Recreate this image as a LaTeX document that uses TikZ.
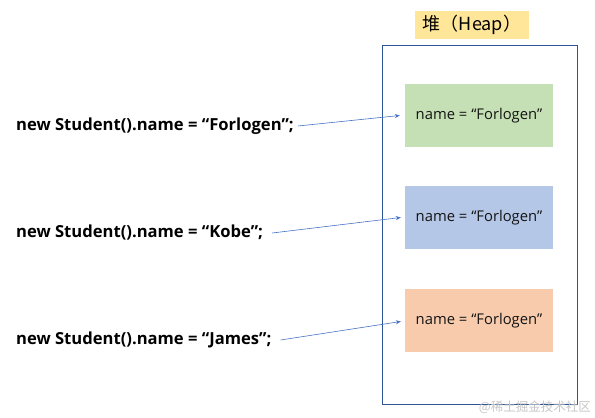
\documentclass[tikz,border=0pt]{standalone}
\usepackage{fontspec}
\setmainfont{Open Sans}
\newfontfamily\cjk{Noto Sans CJK SC}
\newfontfamily\latin{Open Sans}
\usepackage{tikz}
\usetikzlibrary{positioning,calc,arrows.meta}
\definecolor{heapline}{RGB}{47,85,151}
\definecolor{heapyellow}{RGB}{255,230,153}
\definecolor{objgreen}{RGB}{197,224,180}
\definecolor{objblue}{RGB}{180,199,231}
\definecolor{objorange}{RGB}{248,203,173}
\definecolor{arrowblue}{RGB}{68,114,196}
\definecolor{textdark}{RGB}{20,20,20}

\begin{document}
\begin{tikzpicture}[
		x=1pt,
		y=-1pt,
		font=\latin,
		heap/.style={
			draw=heapline,
			line width=0.8pt
		},
		heaplabel/.style={
			fill=heapyellow,
			minimum width=114pt,
			minimum height=28pt,
			inner sep=0pt,
			font=\cjk\fontsize{18}{20}\selectfont
		},
		obj/.style={
			minimum width=148pt,
			minimum height=63pt,
			inner sep=0pt,
			text=textdark,
			font=\latin\fontsize{14.8}{16}\selectfont
		},
		code/.style={
			anchor=west,
			inner sep=0pt,
			text=black,
			font=\latin\bfseries\fontsize{16.6}{18}\selectfont
		},
		arrow/.style={-{Stealth[length=5pt,width=4pt]}, line width=0.6pt, draw=arrowblue}
	]
	
	% Canvas
	\useasboundingbox (0,0) rectangle (595,418);
	
	% Heap
	\draw[heap] (382,45) rectangle (577,404);
	\node[heaplabel] (heaptitle) at (472,25) {堆（Heap）};
	
	% Objects in the heap
	\node[obj, fill=objgreen] (obj1) at (479,115.5) {name = “Forlogen”};
	\node[obj, fill=objblue] (obj2) at (479,217.5) {name = “Forlogen”};
	\node[obj, fill=objorange] (obj3) at (479,320.5) {name = “Forlogen”};
	
	% Statements
	\node[code] (new1) at (16,126) {new Student().name = “Forlogen”;};
	\node[code] (new2) at (16,233) {new Student().name = “Kobe”;};
	\node[code] (new3) at (16,340) {new Student().name = “James”;};
	
	% Arrows
	\draw[arrow] ([xshift=4pt]new1.east) -- ([xshift=-5pt]obj1.west);
	\draw[arrow] ([xshift=9pt]new2.east) -- ([xshift=-4pt]obj2.west);
	\draw[arrow] ([xshift=9pt]new3.east) -- ([xshift=-4pt,yshift=-1pt]obj3.west);
	
	% Watermark
	\node[anchor=east, inner sep=0pt, text=gray!45, font=\cjk\fontsize{12.5}{14}\selectfont] (mark) at (591,407) {@稀土掘金技术社区};
	
\end{tikzpicture}
\end{document}
